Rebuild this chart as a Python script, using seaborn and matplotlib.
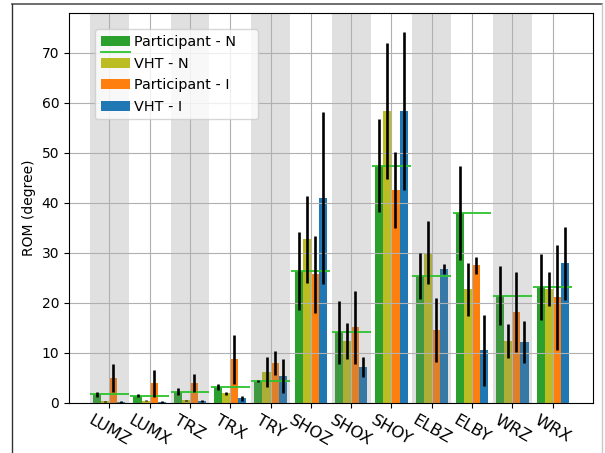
import numpy as np
import pandas as pd
import matplotlib
matplotlib.use("Agg")
import matplotlib.pyplot as plt
from matplotlib.legend_handler import HandlerBase
from matplotlib.patches import Rectangle, Patch
from matplotlib.lines import Line2D
import seaborn as sns

# Joint range-of-motion data (degrees), mean and spread per joint axis
joints = ['LUMZ', 'LUMX', 'TRZ', 'TRX', 'TRY', 'SHOZ', 'SHOX', 'SHOY',
          'ELBZ', 'ELBY', 'WRZ', 'WRX']
series_names = ['Participant - N', 'VHT - N', 'Participant - I', 'VHT - I']

participant_n = [1.8, 1.5, 2.3, 3.2, 4.4, 26.5, 14.2, 47.5, 25.5, 38.1, 21.5, 23.3]
participant_n_err = [0.5, 0.3, 0.7, 0.6, 0.2, 7.8, 6.3, 9.3, 4.6, 9.4, 5.9, 6.6]
vht_n = [0.4, 0.5, 0.6, 2.0, 6.2, 32.8, 12.4, 58.4, 30.1, 22.8, 12.4, 22.8]
vht_n_err = [0.1, 0.1, 0.1, 0.3, 3.0, 8.7, 3.6, 13.6, 6.3, 5.3, 3.4, 3.4]
participant_i = [5.0, 4.0, 4.1, 8.8, 8.0, 25.8, 15.2, 42.6, 14.6, 27.6, 18.2, 21.2]
participant_i_err = [2.8, 2.7, 1.8, 4.9, 2.4, 7.7, 7.3, 7.6, 6.4, 1.7, 8.0, 10.5]
vht_i = [0.2, 0.3, 0.5, 1.0, 5.4, 41.0, 7.2, 58.4, 26.8, 10.6, 12.2, 28.0]
vht_i_err = [0.2, 0.2, 0.2, 0.5, 3.4, 17.2, 2.0, 15.8, 1.0, 7.1, 4.2, 7.3]

yticks = [0, 10, 20, 30, 40, 50, 60, 70]

colors = ['#2ca02c', '#bcbd22', '#ff7f0e', '#1f77b4']
ref_line_color = '#2cc42c'

means = [participant_n, vht_n, participant_i, vht_i]
errs = [participant_n_err, vht_n_err, participant_i_err, vht_i_err]

df = pd.DataFrame({
    'joint': np.tile(joints, len(series_names)),
    'series': np.repeat(series_names, len(joints)),
    'rom': np.concatenate(means),
    'err': np.concatenate(errs),
})

fig = plt.figure(figsize=(6.05, 4.53), dpi=100)
ax = fig.add_axes([69 / 605, 1 - 403 / 453, (593 - 69) / 605, (403 - 13) / 453])

sns.barplot(data=df, x='joint', y='rom', hue='series', order=joints,
            hue_order=series_names, palette=colors, saturation=1,
            errorbar=None, edgecolor='none', linewidth=0, legend=False, ax=ax)

# error bars on top of each bar, placed from the bar geometry
for container, series_err in zip(ax.containers, errs):
    xs = [p.get_x() + p.get_width() / 2 for p in container.patches]
    hs = [p.get_height() for p in container.patches]
    ax.errorbar(xs, hs, yerr=series_err, fmt='none', ecolor='black',
                elinewidth=1.9, capsize=0, zorder=2.5)

# reference level of the participant (N) value over each group
pos = np.arange(len(joints))
ax.hlines(participant_n, pos - 0.48, pos + 0.48, colors=ref_line_color,
          linewidth=1.3, zorder=2.2)

# alternate group shading
for i in range(0, len(joints), 2):
    ax.axvspan(i - 0.48, i + 0.48, facecolor='0.5', alpha=0.24,
               linewidth=0, zorder=1)

ax.set_xlim(-1, len(joints))
ax.set_ylim(0, 78)
ax.set_yticks(yticks)
ax.grid(True, color='#b0b0b0', linewidth=0.8)
ax.set_axisbelow('line')
ax.set_xlabel('')
ax.set_ylabel('ROM (degree)', fontsize=10)
ax.set_xticks(pos)
ax.set_xticklabels(joints, rotation=-30, ha='center', fontsize=11.8)
ax.tick_params(axis='y', labelsize=10)
for s in ax.spines.values():
    s.set_color('black')


class BarWithLevelHandler(HandlerBase):
    """Legend key: filled bar swatch with the level line just below it."""

    def __init__(self, face, line_color):
        super().__init__()
        self.face = face
        self.line_color = line_color

    def legend_artist(self, legend, orig_handle, fontsize, handlebox):
        xd, yd = handlebox.xdescent, handlebox.ydescent
        w, h = handlebox.width, handlebox.height
        tr = handlebox.get_transform()
        rect = Rectangle((-xd, -yd), w, h, facecolor=self.face,
                         edgecolor='none', transform=tr)
        line = Line2D([-xd, -xd + w], [-yd - 4.3, -yd - 4.3],
                      color=self.line_color, linewidth=1.3, transform=tr)
        handlebox.add_artist(rect)
        handlebox.add_artist(line)
        # extend the key box downward so the row makes room for the line
        extra = 3.0
        handlebox.ydescent = yd + extra
        handlebox.height = h + extra
        return rect


handles = [Patch(facecolor=c, edgecolor='none') for c in colors]
leg = ax.legend(handles, series_names, loc='upper left', mode='expand',
                bbox_to_anchor=(26 / 524, 1 - 16 / 390, 163 / 524, 0.0),
                borderaxespad=0, fontsize=10.4, handletextpad=0.3,
                handler_map={handles[0]: BarWithLevelHandler(colors[0], ref_line_color)})
leg.set_zorder(5)

# outer frame around the figure
fig.add_artist(Line2D([12 / 605, 602 / 605], [1 - 4 / 453, 1 - 4 / 453],
                      transform=fig.transFigure, color='#555555', linewidth=1.2))
fig.add_artist(Line2D([12 / 605, 12 / 605], [0, 1 - 4 / 453],
                      transform=fig.transFigure, color='#333333', linewidth=1.0))
fig.add_artist(Line2D([602 / 605, 602 / 605], [0, 1 - 4 / 453],
                      transform=fig.transFigure, color='#c8c8c8', linewidth=1.0))

fig.savefig('out.png', dpi=100)
